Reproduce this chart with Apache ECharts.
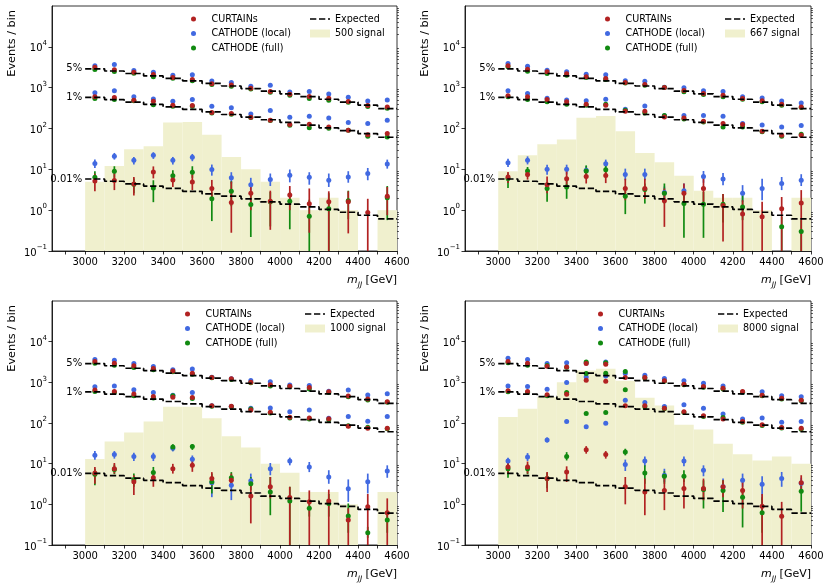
<!DOCTYPE html>
<html><head><meta charset="utf-8">
<script src="https://cdn.jsdelivr.net/npm/echarts@6/dist/echarts.min.js"></script>
<style>html,body{margin:0;padding:0;background:#fff}#c{width:830px;height:586px}</style>
</head><body><div id="c"></div>
<script>
// ---------- axes / categories ----------
const binEdges = [3000,3100,3200,3300,3400,3500,3600,3700,3800,3900,4000,4100,4200,4300,4400,4500,4600];
const binCenters = [3050,3150,3250,3350,3450,3550,3650,3750,3850,3950,4050,4150,4250,4350,4450,4550];
const xTickValues = [2900,3000,3100,3200,3300,3400,3500,3600,3700,3800,3900,4000,4100,4200,4300,4400,4500,4600];
const xLabelValues = [3000,3200,3400,3600,3800,4000,4200,4400,4600];
const yLabelValues = [0.1,1,10,100,1000,10000];
const levelLabels = ['5%','1%','0.01%'];
const seriesNames = ['CURTAINs','CATHODE (local)','CATHODE (full)'];
const signalLabels = ['500 signal','667 signal','1000 signal','8000 signal'];
const yTitle = 'Events / bin';

// ---------- expected background ----------
const expected5 = [2900,2560,2220,1940,1690,1470,1270,1100,950,820,705,605,520,445,375,305];
const expected1 = [580,512,444,388,338,294,254,220,190,164,141,121,104,89,75,61];
const expected001 = [5.8,5.1,4.4,3.9,3.4,2.9,2.5,2.2,1.9,1.6,1.4,1.2,1.04,0.89,0.75,0.61];

// ---------- signal histograms ----------
const signal500 = [5,12,31,37,140,145,70,20,10,5,2,1,2,1,0,1];
const signal667 = [9,22,41,54,183,201,86,25,15,7,3,2,2,1,0,2];
const signal1000 = [13,35,58,109,250,250,131,47,25,10,6,2,2,1,0,2];
const signal8000 = [140,225,435,1010,1950,2150,1100,420,270,90,69,31,17,12,15,10];

// ---------- panel 1 (500 signal) ----------
const p1_cur_5 = [3150,2750,2400,2100,1780,1580,1240,1160,970,810,690,610,550,460,365,335];
const p1_loc_5 = [3450,3700,2640,2380,2000,2070,1450,1330,1080,1140,780,800,700,580,470,500];
const p1_full_5 = [2800,2500,2240,1850,1690,1480,1200,1080,930,770,650,540,490,440,345,313];
const p1_cur_1 = [596,573,493,466,372,365,246,232,189,160,125,127,109,91,70,75];
const p1_loc_1 = [746,836,596,531,466,511,351,320,228,275,189,200,182,140,132,160];
const p1_full_1 = [542,511,475,379,351,351,241,224,185,156,120,105,102,91,65,62];
const p1_cur_001 = [5.2,5.3,4.4,8.6,5.5,4.9,3.4,1.55,2.6,1.65,2.35,1.43,1.6,1.6,0.88,2.2];
const p1_cur_lo = [2.9,3.1,2.3,6.0,3.7,3.1,1.8,0.28,1.0,0.33,1.0,0.28,0.05,0.27,0.05,0.75];
const p1_cur_hi = [7.8,8.0,6.5,11.8,7.9,7.5,5.5,5.0,4.5,3.0,3.9,3.4,2.9,2.9,1.9,3.7];
const p1_loc_001 = [13.8,20.9,16.7,22.1,16.7,19.8,9.9,6.2,4.2,5.6,7.2,6.4,5.4,6.5,7.9,13.6];
const p1_loc_lo = [10.8,17.3,13.1,18.0,13.1,15.8,7.0,4.5,2.9,3.9,4.8,4.2,3.7,4.7,5.4,10.4];
const p1_loc_hi = [17.3,25.2,20.1,26.2,20.1,23.8,13.1,8.5,6.2,7.9,9.9,8.5,7.9,9.0,10.8,17.3];
const p1_full_001 = [6.4,9.0,4.3,3.5,7.0,8.5,1.9,2.9,1.38,1.6,1.66,0.71,1.08,1.7,null,2.0];
const p1_full_lo = [4.7,6.2,2.6,1.57,5.1,6.2,0.54,1.25,0.22,0.4,0.34,0.05,0.05,0.6,null,0.57];
const p1_full_hi = [9.0,11.9,6.0,5.4,9.5,11.9,2.75,5.1,2.65,2.8,2.75,1.8,2.6,3.0,null,3.9];

// ---------- panel 2 (667 signal) ----------
const p2_cur_5 = [3420,2840,2440,2180,1840,1670,1340,1190,1010,850,718,654,542,475,393,338];
const p2_loc_5 = [3900,3360,2680,2440,2140,2060,1470,1440,1020,1000,840,810,595,555,470,424];
const p2_full_5 = [3230,2540,2220,2020,1770,1580,1310,1150,1010,790,679,600,520,449,372,326];
const p2_cur_1 = [630,596,512,449,393,372,265,265,192,182,151,132,125,86,68,68];
const p2_loc_1 = [836,718,552,502,475,521,297,358,204,207,207,200,132,121,109,118];
const p2_full_1 = [596,512,449,393,372,393,280,241,207,172,145,109,109,83,65,72];
const p2_cur_001 = [6.5,7.5,4.2,5.9,6.7,7.1,3.4,3.4,1.7,2.6,3.4,1.3,0.8,0.69,1.08,1.5];
const p2_cur_lo = [4.6,5.6,2.6,3.4,4.5,4.6,1.75,1.9,0.39,1.3,1.6,0.17,0.05,0.05,0.05,0.05];
const p2_cur_hi = [8.6,10,6.7,9.8,9.1,9.8,5.9,5.9,3.4,4.5,6.5,2.5,1.75,1.6,2.1,3.1];
const p2_loc_001 = [14.5,16.6,10,10,9.5,13.7,7.5,7.5,2.7,3.0,6.7,5.8,2.6,3.4,4.5,5.4];
const p2_loc_lo = [11.4,13.2,7.4,7.5,7.5,11.4,5.4,5.4,1.8,1.9,4.7,4.1,1.6,1.75,3.1,3.9];
const p2_loc_hi = [18.2,20.8,13,13,12,17.3,10.4,10.4,3.8,4.5,9.1,8.1,4.1,5.9,6.5,7.6];
const p2_full_001 = [6.0,9.1,3.4,3.7,9.1,9.8,2.2,3.2,2.6,1.45,1.4,1.4,1.2,null,0.39,0.30];
const p2_full_lo = [3.5,6.5,1.6,1.9,6.5,7.1,0.8,1.45,1.45,0.21,0.21,0.5,0.57,null,0.05,0.05];
const p2_full_hi = [8.0,11.4,4.9,5.9,12.5,12.5,3.2,4.5,4.5,2.8,2.8,2.5,2.3,null,0.69,0.57];

// ---------- panel 3 (1000 signal) ----------
const p3_cur_5 = [3240,2950,2540,2180,1910,1680,1310,1220,1010,870,800,750,587,460,388,334];
const p3_loc_5 = [3630,3490,2900,2450,2030,2140,1330,1230,1110,1030,860,830,600,644,486,524];
const p3_full_5 = [2950,2640,2310,2030,1810,1590,1290,1175,975,807,778,682,560,443,367,322];
const p3_cur_1 = [644,598,514,451,430,425,267,257,209,183,138,133,128,83,74,74];
const p3_loc_1 = [778,807,656,565,480,565,267,255,230,234,190,209,130,144,110,144];
const p3_full_1 = [598,565,468,410,470,403,257,252,221,176,133,126,121,86,79,72];
const p3_cur_001 = [5.9,7.5,3.6,4.5,7.5,9.1,4.3,3.9,1.6,2.7,1.47,1.15,1.2,0.41,0.87,0.62];
const p3_cur_lo = [3.2,5.7,1.7,2.7,5.7,6.3,2.9,2.8,0.34,1.4,0.05,0.05,0.05,0.05,0.05,0.05];
const p3_cur_hi = [8.3,10.4,5.2,6.2,9.9,12.1,6.2,5.7,3.2,4.7,2.7,2.2,2.3,0.8,1.8,1.4];
const p3_loc_001 = [16.0,16.9,15.1,15.1,24,12.8,3.4,2.95,3.8,7.5,11.6,8.3,4.7,2.4,3.6,6.6];
const p3_loc_lo = [12.5,13.3,11.6,11.6,20,10.3,1.5,1.27,2.7,5.2,9.1,6.2,3.2,1.15,1.85,4.5];
const p3_loc_hi = [20.4,20.4,18.6,18.6,29,15.9,4.7,5.2,5.7,10.4,14.1,11,6.9,4.1,5.7,9.1];
const p3_full_001 = [5.5,7.2,4.1,6.1,25.6,26.5,3.6,4.5,3.2,2.0,1.2,0.8,1.05,0.52,0.2,0.41];
const p3_full_lo = [2.95,5.5,2.7,4.3,21,21.8,1.85,3.2,2.2,0.54,0.05,0.5,0.5,0.2,0.15,0.2];
const p3_full_hi = [7.5,9.5,5.7,8.3,30,30,5.7,6.2,4.7,4.7,2.7,1.1,1.8,1.05,0.28,0.6];

// ---------- panel 4 (8000 signal) ----------
const p4_cur_5 = [3240,2950,2490,2390,2890,2780,1310,1310,1090,900,789,718,596,484,408,365];
const p4_loc_5 = [3910,3620,2890,3050,3000,3180,1640,1500,1240,1090,953,818,560,584,466,440];
const p4_full_5 = [3050,2630,2580,2350,3180,3050,1840,1280,1060,870,760,690,570,470,390,350];
const p4_cur_1 = [618,596,493,512,1130,1070,265,265,232,189,151,125,109,91,78,74];
const p4_loc_1 = [818,789,679,990,1360,1440,365,320,255,281,232,166,125,132,104,109];
const p4_full_1 = [584,562,466,562,1640,1680,654,250,225,182,145,137,105,87,75,70];
const p4_cur_001 = [8.3,8.3,4.3,6.25,22,16.9,2.7,2.0,2.2,2.45,2.45,2.7,2.2,0.9,0.51,3.4];
const p4_cur_lo = [5.7,5.7,2.0,3.55,17.6,13.3,1.0,0.54,0.72,0.79,1.26,1.5,0.79,0.05,0.05,2.0];
const p4_cur_hi = [11,11.3,6.25,8.6,27,20.4,4.7,4.3,4.5,4.7,4.3,3.9,3.9,1.8,1.15,5.2];
const p4_loc_001 = [11.6,14.6,38,109,81,98,9.6,11.6,5.2,11.6,6.9,2.7,3.9,3.1,4.3,3.3];
const p4_loc_lo = [9.1,11.6,33,100,75,90,6.6,8.6,3.55,8.6,4.9,1.8,2.7,1.05,2.7,2.2];
const p4_loc_hi = [14,18.2,44,118,88,106,12.6,15,7.5,15,9.1,4.3,5.7,4.9,6.25,4.5];
const p4_full_001 = [7.5,7.5,4.3,15.1,172,182,19.3,5.9,4.9,4.9,2.3,2.2,1.5,0.62,null,2.1];
const p4_full_lo = [4.5,5.5,2.5,12,160,170,16,3.2,3.2,3.55,0.79,0.65,0.27,0.2,null,0.66];
const p4_full_hi = [10,9.5,6,19.2,185,195,23.3,9.1,6.5,6.9,3.9,3.9,2.2,1.5,null,3.4];

// ---------- assemble ----------
const FONT = 'DejaVu Sans';
const colors = ['#b22222', '#4169e1', '#118a11'];
const signalColor = '#f0f0ce';
const dashIcon = 'path://M0,-4L0.01,-4L0,-4Z M0,4L0.01,4L0,4Z M0,-0.85h6.3v1.7h-6.3Z M9,-0.85h6.3v1.7h-6.3Z M18,-0.85h2v1.7h-2Z';

const panels = [
  { sig: signal500, sigLabel: signalLabels[0],
    vals: [[p1_cur_5,p1_cur_1,p1_cur_001],[p1_loc_5,p1_loc_1,p1_loc_001],[p1_full_5,p1_full_1,p1_full_001]],
    lo: [p1_cur_lo,p1_loc_lo,p1_full_lo], hi: [p1_cur_hi,p1_loc_hi,p1_full_hi] },
  { sig: signal667, sigLabel: signalLabels[1],
    vals: [[p2_cur_5,p2_cur_1,p2_cur_001],[p2_loc_5,p2_loc_1,p2_loc_001],[p2_full_5,p2_full_1,p2_full_001]],
    lo: [p2_cur_lo,p2_loc_lo,p2_full_lo], hi: [p2_cur_hi,p2_loc_hi,p2_full_hi] },
  { sig: signal1000, sigLabel: signalLabels[2],
    vals: [[p3_cur_5,p3_cur_1,p3_cur_001],[p3_loc_5,p3_loc_1,p3_loc_001],[p3_full_5,p3_full_1,p3_full_001]],
    lo: [p3_cur_lo,p3_loc_lo,p3_full_lo], hi: [p3_cur_hi,p3_loc_hi,p3_full_hi] },
  { sig: signal8000, sigLabel: signalLabels[3],
    vals: [[p4_cur_5,p4_cur_1,p4_cur_001],[p4_loc_5,p4_loc_1,p4_loc_001],[p4_full_5,p4_full_1,p4_full_001]],
    lo: [p4_cur_lo,p4_loc_lo,p4_full_lo], hi: [p4_cur_hi,p4_loc_hi,p4_full_hi] }
];

const grids = [
  {left: 52, top: 6, width: 345, height: 245},
  {left: 465, top: 6, width: 346, height: 245},
  {left: 52, top: 301, width: 345, height: 244},
  {left: 465, top: 301, width: 346, height: 244}
];
const leg1Left = [191, 605, 185, 598];
const leg2Left = [310, 725, 305, 718];
const yTitleX = [12.5, 425.5, 12.5, 425.5];

const yMinor = [];
for (let e = -1; e <= 4; e++) for (let m = 2; m <= 9; m++) yMinor.push(+(m * Math.pow(10, e)).toPrecision(3));

function supFmt(v) {
  const e = Math.round(Math.log10(v));
  return '{b|10}{s|' + (e < 0 ? '\u2212' + (-e) : '' + e) + '}';
}

function histRender(params, api) {
  const v = api.value(2);
  if (!(v > 0)) return null;
  const cs = params.coordSys;
  const a = api.coord([api.value(0), v]);
  const b = api.coord([api.value(1), v]);
  const bottom = cs.y + cs.height;
  return {type: 'rect', shape: {x: a[0], y: a[1], width: b[0] - a[0], height: bottom - a[1]},
          style: {fill: api.visual('color')}};
}
function errRender(params, api) {
  const cs = params.coordSys;
  const x = api.value(0);
  const pLo = api.coord([x, api.value(1)]);
  const pHi = api.coord([x, api.value(2)]);
  const yb = Math.min(pLo[1], cs.y + cs.height);
  const yt = Math.max(pHi[1], cs.y);
  return {type: 'line', shape: {x1: pLo[0], y1: yb, x2: pHi[0], y2: yt},
          style: {stroke: api.visual('color'), lineWidth: 1.7}};
}
function labelRender(params, api) {
  const p = api.coord([api.value(0), api.value(1)]);
  return {type: 'text', x: p[0] - 3, y: p[1],
          style: {text: levelLabels[api.value(2)], align: 'right', verticalAlign: 'middle',
                  font: '10px "DejaVu Sans"', fill: '#000'}};
}

const xAxes = [], yAxes = [], series = [], legends = [], graphics = [];
grids.forEach((g, k) => {
  xAxes.push({
    type: 'value', gridIndex: k, min: 2830, max: 4600,
    axisLine: {show: true, onZero: false, lineStyle: {color: '#000', width: 0.8}},
    axisTick: {show: true, customValues: xTickValues, length: 3.5, lineStyle: {color: '#000', width: 0.8}},
    axisLabel: {customValues: xLabelValues, formatter: v => String(v), fontFamily: FONT, fontSize: 10, color: '#000', margin: 6},
    splitLine: {show: false},
    name: '{i|m}{sub|JJ}{g| [GeV]}', nameLocation: 'end', nameGap: 0,
    nameTextStyle: {align: 'right', verticalAlign: 'top', padding: [24, 0, 0, 0], fontFamily: FONT, color: '#000',
      rich: {
        i: {fontStyle: 'italic', fontSize: 11, fontFamily: FONT, lineHeight: 14, verticalAlign: 'top', color: '#000'},
        sub: {fontStyle: 'italic', fontSize: 7.5, fontFamily: FONT, lineHeight: 8, verticalAlign: 'bottom', color: '#000'},
        g: {fontSize: 11, fontFamily: FONT, lineHeight: 14, verticalAlign: 'top', color: '#000'}
      }}
  });
  yAxes.push({
    type: 'log', logBase: 10, gridIndex: k, min: 0.1, max: 100000,
    axisLine: {show: true, onZero: false, lineStyle: {color: '#000', width: 0.8}},
    axisTick: {show: true, customValues: yLabelValues, length: 3.5, lineStyle: {color: '#000', width: 0.8}},
    axisLabel: {customValues: yLabelValues, formatter: supFmt, margin: 5,
      rich: {
        b: {fontSize: 10, fontFamily: FONT, color: '#000', lineHeight: 14, verticalAlign: 'bottom'},
        s: {fontSize: 7, fontFamily: FONT, color: '#000', lineHeight: 8, verticalAlign: 'top'}
      }},
    splitLine: {show: false}
  });
  yAxes.push({
    type: 'log', logBase: 10, gridIndex: k, min: 0.1, max: 100000,
    axisLine: {show: false},
    axisTick: {show: true, customValues: yMinor, length: 2, lineStyle: {color: '#000', width: 0.6}},
    axisLabel: {show: false}, splitLine: {show: false}
  });
  graphics.push({
    type: 'text', x: yTitleX[k], y: g.top + 4, rotation: Math.PI / 2, silent: true,
    style: {text: yTitle, align: 'right', verticalAlign: 'middle', font: '11.3px "DejaVu Sans"', fill: '#000'}
  });

  const P = panels[k];
  const yi = 2 * k;
  series.push({
    type: 'custom', name: P.sigLabel, xAxisIndex: k, yAxisIndex: yi, silent: true,
    itemStyle: {color: signalColor}, renderItem: histRender,
    encode: {x: [0, 1], y: 2},
    data: P.sig.map((v, i) => [binEdges[i], binEdges[i + 1], v])
  });
  series.push({
    type: 'custom', name: 'Expected', xAxisIndex: k, yAxisIndex: yi, silent: true,
    itemStyle: {color: '#000'}, renderItem: () => null, data: []
  });
  [expected5, expected1, expected001].forEach(arr => {
    series.push({
      type: 'line', name: 'Expected', xAxisIndex: k, yAxisIndex: yi, step: 'end', symbol: 'none', silent: true,
      itemStyle: {color: '#000'},
      lineStyle: {color: '#000', width: 1.7, type: [6.3, 2.7]},
      data: binEdges.map((e, i) => [e, arr[Math.min(i, arr.length - 1)]])
    });
  });
  series.push({
    type: 'custom', name: '_levels', xAxisIndex: k, yAxisIndex: yi, silent: true,
    renderItem: labelRender, encode: {x: 0, y: 1},
    data: [[binEdges[0], expected5[0], 0], [binEdges[0], expected1[0], 1], [binEdges[0], expected001[0], 2]]
  });
  [1, 2, 0].forEach(s => {
    const errData = [];
    binCenters.forEach((x, i) => {
      if (P.vals[s][2][i] != null) errData.push([x, P.lo[s][i], P.hi[s][i]]);
    });
    series.push({
      type: 'custom', name: '_err' + s, xAxisIndex: k, yAxisIndex: yi, silent: true,
      itemStyle: {color: colors[s]}, renderItem: errRender, encode: {x: 0, y: [1, 2]},
      data: errData
    });
    const pts = [];
    P.vals[s].forEach(arr => arr.forEach((v, i) => { if (v != null) pts.push([binCenters[i], v]); }));
    series.push({
      type: 'scatter', name: seriesNames[s], xAxisIndex: k, yAxisIndex: yi, silent: true,
      symbol: 'circle', symbolSize: 5, itemStyle: {color: colors[s], opacity: 1},
      data: pts
    });
  });

  legends.push({
    orient: 'vertical', left: leg1Left[k], top: g.top + 6, padding: 0, itemGap: 0.5,
    itemWidth: 26, itemHeight: 5, selectedMode: false,
    textStyle: {fontFamily: FONT, fontSize: 9.6, color: '#000', lineHeight: 14},
    data: seriesNames.map(n => ({name: n, icon: 'circle'}))
  });
  legends.push({
    orient: 'vertical', left: leg2Left[k], top: g.top + 6, padding: 0, itemGap: 0.5,
    itemWidth: 20, itemHeight: 8, selectedMode: false,
    textStyle: {fontFamily: FONT, fontSize: 9.6, color: '#000', lineHeight: 14},
    data: [{name: 'Expected', icon: dashIcon}, {name: P.sigLabel, icon: 'rect'}]
  });
});

const chart = echarts.init(document.getElementById('c'), null, {renderer: 'canvas'});
chart.setOption({
  backgroundColor: '#fff',
  animation: false,
  grid: grids.map(g => Object.assign({show: true, borderColor: '#000', borderWidth: 0.8, backgroundColor: 'transparent'}, g)),
  xAxis: xAxes,
  yAxis: yAxes,
  legend: legends,
  graphic: graphics,
  series: series
});
</script>
</body></html>
